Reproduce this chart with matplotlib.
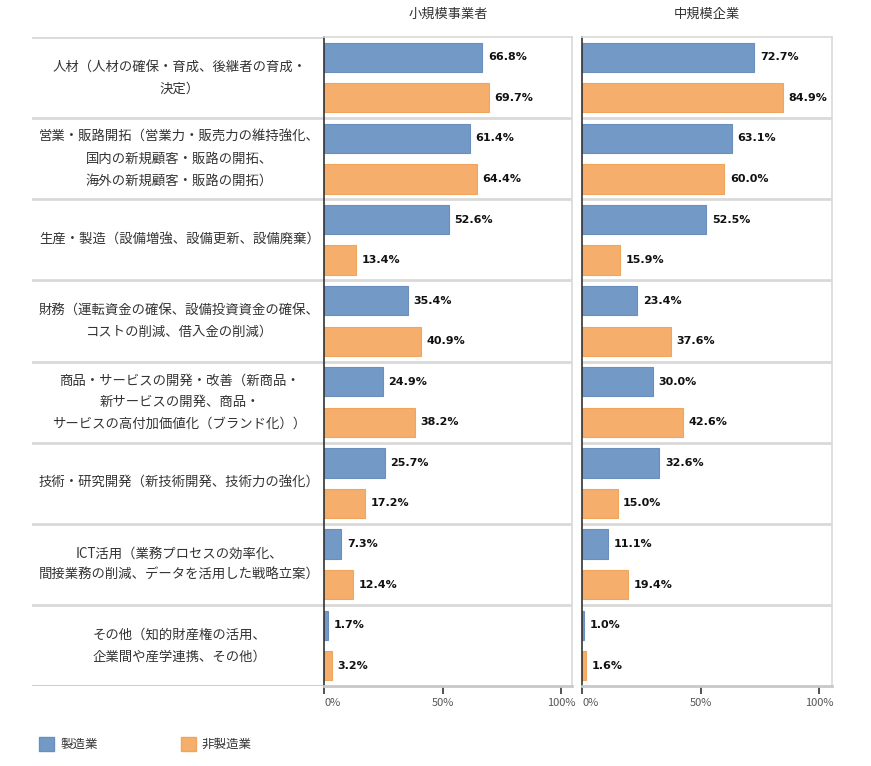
import numpy as np
import matplotlib.pyplot as plt
from matplotlib.patches import Patch

plt.rcParams['font.family'] = ['Noto Sans CJK JP', 'DejaVu Sans']

categories = [
    "人材（人材の確保・育成、後継者の育成・\n決定）",
    "営業・販路開拓（営業力・販売力の維持強化、\n国内の新規顧客・販路の開拓、\n海外の新規顧客・販路の開拓）",
    "生産・製造（設備増強、設備更新、設備廃棄）",
    "財務（運転資金の確保、設備投資資金の確保、\nコストの削減、借入金の削減）",
    "商品・サービスの開発・改善（新商品・\n新サービスの開発、商品・\nサービスの高付加価値化（ブランド化））",
    "技術・研究開発（新技術開発、技術力の強化）",
    "ICT活用（業務プロセスの効率化、\n間接業務の削減、データを活用した戦略立案）",
    "その他（知的財産権の活用、\n企業間や産学連携、その他）",
]
panel_titles = ["小規模事業者", "中規模企業"]
series_names = ["製造業", "非製造業"]

small_manuf = [66.8, 61.4, 52.6, 35.4, 24.9, 25.7, 7.3, 1.7]
small_nonmanuf = [69.7, 64.4, 13.4, 40.9, 38.2, 17.2, 12.4, 3.2]
mid_manuf = [72.7, 63.1, 52.5, 23.4, 30.0, 32.6, 11.1, 1.0]
mid_nonmanuf = [84.9, 60.0, 15.9, 37.6, 42.6, 15.0, 19.4, 1.6]

blue = '#7399c6'
orange = '#f5ae6b'
sep_color = '#d9d9d9'

W, H = 871, 766
fig = plt.figure(figsize=(W / 100, H / 100), dpi=100)

top, bottom = 37, 686
y0 = 1 - bottom / H
hgt = (bottom - top) / H

n = len(categories)
ypos = np.arange(n)

# 左側のラベル列
axl = fig.add_axes([32 / W, y0, (324 - 32) / W, hgt])
axl.set_xlim(0, 1)
axl.set_ylim(n - 0.5, -0.5)
axl.axis('off')
for i, c in enumerate(categories):
    axl.text(0.505, i, c, ha='center', va='center', fontsize=9.6,
             color='#333333', linespacing=1.7)
for b in np.arange(n + 1) - 0.5:
    axl.axhline(b, color='#c8c8c8' if b == n - 0.5 else sep_color, lw=2)

panels = [
    (324, 572, small_manuf, small_nonmanuf),
    (582, 832, mid_manuf, mid_nonmanuf),
]
px100 = 237.0
for k, (xa, xb, v1, v2) in enumerate(panels):
    ax = fig.add_axes([xa / W, y0, (xb - xa) / W, hgt])
    ax.set_xlim(0, (xb - xa) / px100 * 100)
    ax.set_ylim(n - 0.5, -0.5)
    bh = 0.36
    ax.barh(ypos - 0.25, v1, height=bh, color=blue, edgecolor='#6a8fbd', lw=0.8)
    ax.barh(ypos + 0.25, v2, height=bh, color=orange, edgecolor='#f0a45c', lw=0.8)
    for i in range(n):
        ax.annotate(f"{v1[i]:.1f}%", (v1[i], i - 0.25), xytext=(4, 0),
                    textcoords='offset points', va='center', ha='left',
                    fontsize=8, fontweight='bold', family='DejaVu Sans', color='#111111')
        ax.annotate(f"{v2[i]:.1f}%", (v2[i], i + 0.25), xytext=(4, 0),
                    textcoords='offset points', va='center', ha='left',
                    fontsize=8, fontweight='bold', family='DejaVu Sans', color='#111111')
    for b in np.arange(1, n) - 0.5:
        ax.axhline(b, color=sep_color, lw=2, zorder=0)
    ax.spines['left'].set_color('#333333')
    ax.spines['left'].set_linewidth(1.2)
    ax.spines['top'].set_color(sep_color)
    ax.spines['right'].set_color(sep_color)
    ax.spines['bottom'].set_color('#c8c8c8')
    ax.spines['bottom'].set_linewidth(2)
    ax.spines['top'].set_linewidth(1.2)
    ax.spines['right'].set_linewidth(1.2)
    ax.set_yticks([])
    ax.set_xticks([0, 50, 100])
    ax.set_xticklabels(['0%', '50%', '100%'])
    ax.tick_params(axis='x', length=6, width=1.2, color='#333333',
                   labelsize=8, labelcolor='#555555', pad=3)
    tl = ax.get_xticklabels()
    tl[0].set_horizontalalignment('left')
    ax.set_title(panel_titles[k], fontsize=9.5, color='#333333', pad=14)

handles = [Patch(facecolor=blue, edgecolor='#6a8fbd'),
           Patch(facecolor=orange, edgecolor='#f0a45c')]
fig.legend(handles, series_names, loc='center left',
           bbox_to_anchor=(28 / W, 1 - 744 / H), ncol=2, frameon=False,
           fontsize=9, handlelength=1.2, handleheight=1.4,
           handletextpad=0.5, columnspacing=6.6, labelcolor='#333333')

fig.savefig('out.png', dpi=100)
